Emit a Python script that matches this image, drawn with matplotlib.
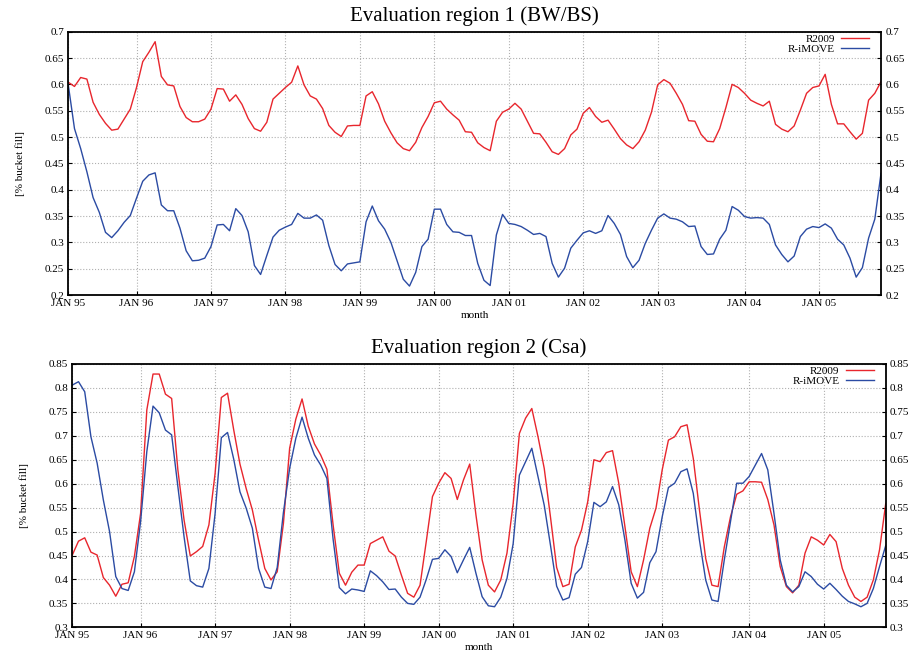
import matplotlib
matplotlib.use("Agg")
import matplotlib.pyplot as plt
import numpy as np

plt.rcParams['font.family'] = ['Liberation Serif', 'DejaVu Serif']

# monthly values, 132 months
tick_pos = [0, 11, 23, 35, 47, 59, 71, 83, 95, 109, 121]
tick_labels = ['JAN 95', 'JAN 96', 'JAN 97', 'JAN 98', 'JAN 99', 'JAN 00',
               'JAN 01', 'JAN 02', 'JAN 03', 'JAN 04', 'JAN 05']

r1_r2009 = [
    0.604, 0.596, 0.613, 0.610, 0.566, 0.543, 0.526, 0.513, 0.515, 0.534, 0.553, 0.594,
    0.643, 0.661, 0.681, 0.615, 0.599, 0.597, 0.558, 0.537, 0.529, 0.529, 0.534, 0.553,
    0.592, 0.591, 0.568, 0.580, 0.562, 0.535, 0.516, 0.511, 0.528, 0.572, 0.583, 0.594,
    0.604, 0.635, 0.599, 0.578, 0.572, 0.554, 0.522, 0.509, 0.501, 0.521, 0.522, 0.522,
    0.578, 0.586, 0.563, 0.530, 0.508, 0.489, 0.478, 0.474, 0.490, 0.518, 0.539, 0.565,
    0.568, 0.553, 0.542, 0.532, 0.510, 0.509, 0.489, 0.480, 0.474, 0.530, 0.547, 0.553,
    0.564, 0.553, 0.530, 0.507, 0.506, 0.490, 0.472, 0.467, 0.478, 0.504, 0.515, 0.545,
    0.556, 0.539, 0.528, 0.532, 0.515, 0.497, 0.485, 0.478, 0.491, 0.513, 0.547, 0.599,
    0.609, 0.602, 0.583, 0.562, 0.531, 0.530, 0.505, 0.492, 0.491, 0.516, 0.556, 0.600,
    0.594, 0.583, 0.570, 0.564, 0.559, 0.568, 0.524, 0.515, 0.510, 0.521, 0.551, 0.583,
    0.594, 0.597, 0.619, 0.562, 0.525, 0.525, 0.510, 0.496, 0.507, 0.570, 0.583, 0.605]

r1_imove = [
    0.599, 0.516, 0.478, 0.434, 0.385, 0.357, 0.319, 0.309, 0.322, 0.338, 0.351, 0.384,
    0.416, 0.428, 0.432, 0.371, 0.360, 0.360, 0.327, 0.284, 0.265, 0.266, 0.270, 0.292,
    0.333, 0.334, 0.322, 0.364, 0.351, 0.320, 0.256, 0.239, 0.275, 0.310, 0.323, 0.329,
    0.334, 0.355, 0.346, 0.346, 0.352, 0.342, 0.294, 0.258, 0.246, 0.259, 0.261, 0.263,
    0.339, 0.369, 0.341, 0.325, 0.300, 0.265, 0.230, 0.217, 0.243, 0.292, 0.306, 0.363,
    0.363, 0.334, 0.320, 0.319, 0.313, 0.313, 0.260, 0.228, 0.218, 0.314, 0.353, 0.336,
    0.334, 0.330, 0.323, 0.315, 0.317, 0.311, 0.260, 0.234, 0.251, 0.289, 0.304, 0.318,
    0.322, 0.317, 0.322, 0.351, 0.336, 0.315, 0.273, 0.252, 0.266, 0.298, 0.323, 0.346,
    0.354, 0.346, 0.344, 0.339, 0.330, 0.331, 0.292, 0.277, 0.278, 0.306, 0.323, 0.368,
    0.361, 0.349, 0.346, 0.347, 0.346, 0.334, 0.295, 0.277, 0.263, 0.274, 0.311, 0.325,
    0.330, 0.328, 0.335, 0.327, 0.306, 0.295, 0.270, 0.234, 0.252, 0.308, 0.344, 0.431]

r2_r2009 = [
    0.451, 0.480, 0.487, 0.457, 0.451, 0.404, 0.388, 0.365, 0.390, 0.393, 0.448, 0.538,
    0.754, 0.829, 0.829, 0.787, 0.778, 0.629, 0.524, 0.449, 0.458, 0.469, 0.514, 0.622,
    0.780, 0.789, 0.712, 0.641, 0.590, 0.545, 0.482, 0.423, 0.399, 0.416, 0.517, 0.674,
    0.735, 0.777, 0.720, 0.683, 0.660, 0.630, 0.514, 0.413, 0.388, 0.415, 0.430, 0.430,
    0.475, 0.482, 0.489, 0.459, 0.449, 0.409, 0.371, 0.363, 0.388, 0.479, 0.573, 0.601,
    0.623, 0.611, 0.567, 0.608, 0.641, 0.535, 0.441, 0.388, 0.374, 0.399, 0.455, 0.559,
    0.705, 0.737, 0.757, 0.698, 0.632, 0.531, 0.425, 0.385, 0.390, 0.468, 0.503, 0.562,
    0.650, 0.646, 0.665, 0.669, 0.601, 0.510, 0.416, 0.385, 0.441, 0.507, 0.549, 0.629,
    0.691, 0.698, 0.719, 0.723, 0.653, 0.545, 0.444, 0.388, 0.385, 0.468, 0.531, 0.578,
    0.585, 0.604, 0.604, 0.603, 0.567, 0.514, 0.427, 0.385, 0.372, 0.388, 0.455, 0.489,
    0.482, 0.472, 0.494, 0.479, 0.423, 0.388, 0.363, 0.354, 0.363, 0.399, 0.462, 0.559]

r2_imove = [
    0.806, 0.813, 0.792, 0.698, 0.643, 0.566, 0.500, 0.406, 0.381, 0.377, 0.416, 0.521,
    0.667, 0.762, 0.748, 0.712, 0.702, 0.594, 0.489, 0.397, 0.387, 0.384, 0.423, 0.538,
    0.696, 0.707, 0.651, 0.583, 0.549, 0.507, 0.423, 0.384, 0.381, 0.425, 0.540, 0.632,
    0.695, 0.739, 0.695, 0.660, 0.639, 0.611, 0.484, 0.383, 0.370, 0.380, 0.378, 0.375,
    0.418, 0.408, 0.395, 0.379, 0.380, 0.363, 0.350, 0.348, 0.363, 0.400, 0.442, 0.444,
    0.462, 0.448, 0.414, 0.441, 0.467, 0.413, 0.364, 0.345, 0.343, 0.363, 0.402, 0.475,
    0.618, 0.646, 0.674, 0.615, 0.555, 0.472, 0.386, 0.357, 0.362, 0.411, 0.425, 0.479,
    0.561, 0.552, 0.562, 0.594, 0.556, 0.482, 0.392, 0.361, 0.373, 0.435, 0.458, 0.531,
    0.592, 0.601, 0.625, 0.631, 0.580, 0.482, 0.399, 0.357, 0.354, 0.441, 0.521, 0.601,
    0.601, 0.615, 0.639, 0.663, 0.629, 0.538, 0.441, 0.388, 0.374, 0.385, 0.416, 0.406,
    0.390, 0.380, 0.392, 0.379, 0.365, 0.354, 0.349, 0.343, 0.350, 0.381, 0.427, 0.471]

RED = '#e8262d'
BLUE = '#2b4ba3'

fig = plt.figure(figsize=(9.14, 6.6), dpi=100)
ax1 = fig.add_axes([0.0747, 0.553, 0.8892, 0.399])
ax2 = fig.add_axes([0.0791, 0.0495, 0.8900, 0.399])

panels = [
    (ax1, r1_r2009, r1_imove, 'Evaluation region 1 (BW/BS)', (0.2, 0.7)),
    (ax2, r2_r2009, r2_imove, 'Evaluation region 2 (Csa)', (0.3, 0.85)),
]

for ax, red, blue, title, (lo, hi) in panels:
    x = np.arange(len(red))
    ax.plot(x, red, color=RED, lw=1.0, label='R2009')
    ax.plot(x, blue, color=BLUE, lw=1.0, label='R-iMOVE')
    ax.set_xlim(0, len(red) - 1)
    ax.set_ylim(lo, hi)
    yt = np.round(np.arange(lo, hi + 0.001, 0.05), 2)
    ax.set_yticks(yt)
    ax.set_yticklabels([f'{v:g}' for v in yt])
    ax.set_xticks(tick_pos)
    ax.set_xticklabels(tick_labels)
    ax.tick_params(direction='in', length=3, labelsize=8, right=True,
                   labelright=True, top=False, pad=3)
    ax.grid(True, color='#b0b0b0', linestyle=':', linewidth=0.8)
    for s in ax.spines.values():
        s.set_linewidth(1.3)
    ax.set_title(title, fontsize=15, pad=8)
    ax.set_xlabel('month', fontsize=8, labelpad=2)
    ax.set_ylabel('[% bucket fill]', fontsize=8, labelpad=14)
    ax.legend(loc='upper right', bbox_to_anchor=(0.988, 1.0), frameon=False,
              markerfirst=False, fontsize=8, handlelength=2.5, labelspacing=0.05,
              borderaxespad=0.0, borderpad=0.2, handletextpad=0.6)

fig.savefig('out.png', dpi=100)
